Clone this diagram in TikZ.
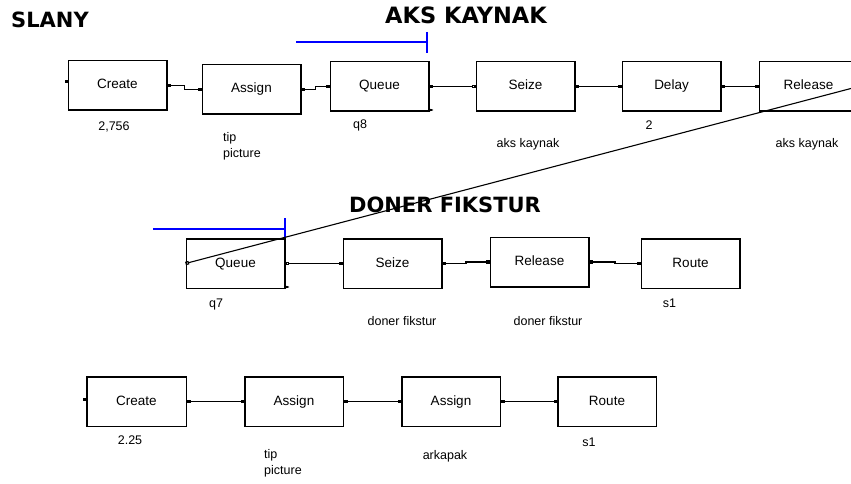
\documentclass[tikz,border=0pt]{standalone}
\usepackage{fontspec}
\setmainfont{Liberation Sans}
\newfontfamily\titlefont{DejaVu Sans}
\usepackage{xcolor}
\usepackage{tikz}
\usetikzlibrary{arrows.meta, positioning, calc}
\definecolor{queueblue}{RGB}{0, 0, 255}

\begin{document}
\begin{tikzpicture}[
    x=1pt, y=-1pt,
    node distance=34pt,
    block/.style={rectangle, draw, line width=1.5pt, minimum width=98.5pt, minimum height=49.5pt, inner sep=0pt, text height=9.5pt, text depth=2.5pt, font=\fontsize{13.5}{16}\selectfont},
    info/.style={font=\fontsize{12.5}{16}\selectfont, inner sep=0pt},
    title/.style={font=\titlefont\bfseries\fontsize{21}{24}\selectfont, inner sep=0pt},
    link/.style={line width=1.3pt, {Square[length=3.5pt,width=3.5pt]}-{Square[length=3.5pt,width=3.5pt]}},
    qline/.style={line width=1.3pt, color=queueblue}
]
\useasboundingbox (0,0) rectangle (851,484);

% titles
\node[title, anchor=west] (slany) at (11,20) {SLANY};
\node[title, font=\titlefont\bfseries\fontsize{22.5}{24}\selectfont] (akstitle) at (466,15) {AKS KAYNAK};
\node[title] (donertitle) at (445,205) {DONER FIKSTUR};

% first line
\node[block] (create1) at (117.5,85.5) {Create};
\node[block, right=34pt of create1, yshift=-4pt] (assign1) {Assign};
\node[block, right=28pt of assign1, yshift=3pt] (queue8) {Queue};
\node[block, right=46pt of queue8] (seize1) {Seize};
\node[block, right=46pt of seize1] (delay1) {Delay};
\node[block, right=37pt of delay1] (release1) {Release};

% second line
\node[block] (queue7) at (235.5,263.5) {Queue};
\node[block, right=57pt of queue7] (seize2) {Seize};
\node[block, right=47pt of seize2, yshift=1.5pt] (release2) {Release};
\node[block, right=51pt of release2, yshift=-1.5pt] (route2) {Route};

% third line
\node[block, minimum width=99.5pt] (create3) at (136.5,401.5) {Create};
\node[block, right=57pt of create3] (assign3) {Assign};
\node[block, right=57pt of assign3] (assign4) {Assign};
\node[block, right=56pt of assign4] (route3) {Route};

% labels under the modules
\node[info] (l2756) at (114,127) {2,756};
\node[info, anchor=north west, align=left] (ltip1) at (223,132) {tip\\picture};
\node[info] (lq8) at (360,125) {q8};
\node[info] (laks1) at (528,144) {aks kaynak};
\node[info] (ldelay) at (649,125) {2};
\node[info] (laks2) at (807,144) {aks kaynak};
\node[info] (lq7) at (216,304) {q7};
\node[info] (ldoner1) at (402,321) {doner fikstur};
\node[info] (ldoner2) at (548,321) {doner fikstur};
\node[info] (ls1a) at (669.5,303) {s1};
\node[info] (l225) at (130,440) {2.25};
\node[info, anchor=north west, align=left] (ltip2) at (264,449) {tip\\picture};
\node[info] (larkapak) at (445,456) {arkapak};
\node[info] (ls1b) at (589,442) {s1};

% queue animation lines
\draw[qline] (296,42) -- (427,42);
\draw[qline] (427,32) -- (427,53);
\draw[qline] (153,229) -- (285,229);
\draw[qline] (285,218) -- (285,238);

% entry and balk stubs
\draw[line width=1.2pt, -{Square[length=3pt,width=3pt]}] ([yshift=4pt]create1.west) -- ++(-3,0);
\draw[line width=1.2pt, -{Square[length=3pt,width=3pt]}] ([yshift=2pt]create3.west) -- ++(-3,0);
\draw[line width=1.2pt, -{Stealth[length=3pt]}] ([yshift=2pt]queue8.south east) -- ++(4,0);
\draw[line width=1.2pt, -{Stealth[length=3pt]}] ([yshift=2pt]queue7.south east) -- ++(4,0);

% connections
\draw[link] (create1.east) -| ($(create1.east)!.5!(assign1.west)$) |- (assign1.west);
\draw[link] (assign1.east) -| ($(assign1.east)!.5!(queue8.west)$) |- (queue8.west);
\draw[line width=1.3pt, {Square[length=3.5pt,width=3.5pt]}-{Square[open,length=3.5pt,width=3.5pt]}] (queue8.east) -| ($(queue8.east)!.5!(seize1.west)$) |- (seize1.west);
\draw[link] (seize1) -- (delay1);
\draw[link] (delay1) -- (release1);
\draw[line width=1.1pt, -{Square[open,length=3.5pt,width=3.5pt]}] (release1.east) -- (queue7.west);

\draw[line width=1.3pt, {Square[open,length=3.5pt,width=3.5pt]}-{Square[length=3.5pt,width=3.5pt]}] (queue7) -- (seize2);
\draw[link] (seize2.east) -| ($(seize2.east)!.5!(release2.west)$) |- (release2.west);
\draw[link] (release2.east) -| ($(release2.east)!.5!(route2.west)$) |- (route2.west);

\draw[link] (create3) -- (assign3);
\draw[link] (assign3) -- (assign4);
\draw[link] (assign4) -- (route3);
\end{tikzpicture}
\end{document}
